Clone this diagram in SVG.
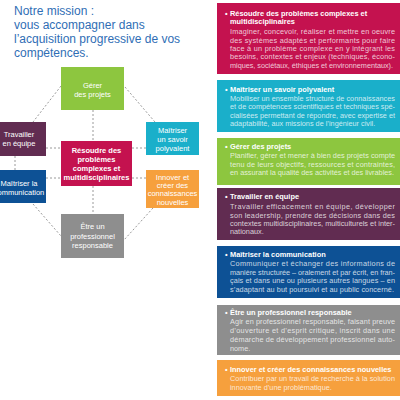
<svg xmlns="http://www.w3.org/2000/svg" width="400" height="400" viewBox="0 0 400 400">
<style>
.title{font-family:"Liberation Sans",Arial,sans-serif;font-size:12px;fill:#2f6eb5}
.n{font-family:"Liberation Sans",Arial,sans-serif;font-size:7.5px;fill:#fff;text-anchor:middle}
.nb{font-weight:bold}
.pt{font-family:"Liberation Sans",Arial,sans-serif;font-size:7.4px;font-weight:bold;fill:#fff}
.pb{font-family:"Liberation Sans",Arial,sans-serif;font-size:7.3px;fill:#fff;fill-opacity:0.78}
.dash{stroke:#9a9a9a;stroke-width:1;stroke-dasharray:2 2;fill:none}
</style>
<rect width="400" height="400" fill="#fff"/>
<g id="title">
<text class="title" x="14" y="15">Notre mission :</text>
<text class="title" x="14" y="29">vous accompagner dans</text>
<text class="title" x="14" y="43">l’acquisition progressive de vos</text>
<text class="title" x="14" y="57">compétences.</text>
</g>
<g id="connectors">
<line class="dash" x1="61" y1="86" x2="33" y2="122"/>
<line class="dash" x1="125" y1="87" x2="155" y2="122"/>
<line class="dash" x1="15" y1="156" x2="15" y2="170"/>
<line class="dash" x1="33" y1="204" x2="61" y2="236"/>
<line class="dash" x1="153" y1="208" x2="124" y2="240"/>
<line class="dash" x1="93" y1="110" x2="93" y2="141"/>
<line class="dash" x1="93" y1="186" x2="93" y2="214"/>
<line class="dash" x1="46" y1="148" x2="61" y2="148"/>
<line class="dash" x1="132" y1="148" x2="146" y2="148"/>
<line class="dash" x1="46" y1="178" x2="61" y2="178"/>
<line class="dash" x1="132" y1="178" x2="146" y2="178"/>
</g>
<g id="node-gerer">
<rect x="61" y="67" width="63" height="43" fill="#8dc63f"/>
<text class="n" x="92.5" y="87.7">Gérer</text>
<text class="n" x="92.5" y="96.7">des projets</text>
</g>
<g id="node-travailler">
<rect x="-8" y="122" width="54" height="34" fill="#612c51"/>
<text class="n" x="19" y="136.7">Travailler</text>
<text class="n" x="19" y="145.7">en équipe</text>
</g>
<g id="node-savoir">
<rect x="146" y="122" width="53" height="33" fill="#1aafca"/>
<text class="n" x="172.5" y="132.7">Maîtriser</text>
<text class="n" x="172.5" y="141.7">un savoir</text>
<text class="n" x="172.5" y="150.5">polyvalent</text>
</g>
<g id="node-resoudre">
<rect x="61" y="141" width="71" height="45" fill="#c4124f"/>
<text class="n nb" x="96.5" y="153.4">Résoudre des</text>
<text class="n nb" x="96.5" y="162">problèmes</text>
<text class="n nb" x="96.5" y="171">complexes et</text>
<text class="n nb" x="96.5" y="180">multidisciplinaires</text>
</g>
<g id="node-communication">
<rect x="-8" y="170" width="54" height="33" fill="#0d5195"/>
<text class="n" x="19" y="185.7">Maîtriser la</text>
<text class="n" x="19" y="194.7">communication</text>
</g>
<g id="node-innover">
<rect x="146" y="170" width="53" height="38" fill="#f6a03d"/>
<text class="n" x="172.5" y="180">Innover et</text>
<text class="n" x="172.5" y="188.3">créer  des</text>
<text class="n" x="172.5" y="196.4">connaissances</text>
<text class="n" x="172.5" y="204.6">nouvelles</text>
</g>
<g id="node-professionnel">
<rect x="61" y="214" width="63" height="44" fill="#8e8e8e"/>
<text class="n" x="92.5" y="229.4">Être un</text>
<text class="n" x="92.5" y="238.6">professionnel</text>
<text class="n" x="92.5" y="247.7">responsable</text>
</g>
<g id="panel-resoudre">
<rect x="217" y="3" width="183" height="71" fill="#c4124f"/>
<text class="pt" x="225" y="16">•</text>
<text class="pt" x="230" y="16">Résoudre des problèmes complexes et</text>
<text class="pt" x="230" y="24">multidisciplinaires</text>
<text class="pb" x="230" y="34.4" textLength="165" lengthAdjust="spacing">Imaginer, concevoir, réaliser et mettre en oeuvre</text>
<text class="pb" x="230" y="42.7" textLength="165" lengthAdjust="spacing">des systèmes adaptés et performants pour faire</text>
<text class="pb" x="230" y="51" textLength="165" lengthAdjust="spacing">face à un problème complexe en y intégrant les</text>
<text class="pb" x="230" y="59.4" textLength="165" lengthAdjust="spacing">besoins, contextes et enjeux (techniques, écono-</text>
<text class="pb" x="230" y="67.7" textLength="163" lengthAdjust="spacing">miques, sociétaux, éthiques et environnementaux).</text>
</g>
<g id="panel-savoir">
<rect x="217" y="80" width="183" height="52" fill="#1aafca"/>
<text class="pt" x="225" y="91.7">•</text>
<text class="pt" x="230" y="91.7">Maîtriser un savoir polyvalent</text>
<text class="pb" x="230" y="101" textLength="165" lengthAdjust="spacing">Mobiliser un ensemble structuré de connaissances</text>
<text class="pb" x="230" y="109.4" textLength="165" lengthAdjust="spacing">et de compétences scientifiques et techniques spé-</text>
<text class="pb" x="230" y="117.7" textLength="165" lengthAdjust="spacing">cialisées permettant de répondre, avec expertise et</text>
<text class="pb" x="230" y="126">adaptabilité, aux missions de l’ingénieur civil.</text>
</g>
<g id="panel-gerer">
<rect x="217" y="138" width="183" height="47" fill="#8dc63f"/>
<text class="pt" x="225" y="148.7">•</text>
<text class="pt" x="230" y="148.7">Gérer des projets</text>
<text class="pb" x="230" y="157.7" textLength="165" lengthAdjust="spacing">Planifier, gérer et mener à bien des projets compte</text>
<text class="pb" x="230" y="166.5" textLength="165" lengthAdjust="spacing">tenu de leurs objectifs, ressources et contraintes,</text>
<text class="pb" x="230" y="175.3" textLength="164" lengthAdjust="spacing">en assurant la qualité des activités et des livrables.</text>
</g>
<g id="panel-travailler">
<rect x="217" y="188" width="183" height="52" fill="#612c51"/>
<text class="pt" x="225" y="199.4">•</text>
<text class="pt" x="230" y="199.4">Travailler en équipe</text>
<text class="pb" x="230" y="209.4" textLength="165" lengthAdjust="spacing">Travailler efficacement en équipe, développer</text>
<text class="pb" x="230" y="217.7" textLength="165" lengthAdjust="spacing">son leadership, prendre des décisions dans des</text>
<text class="pb" x="230" y="226" textLength="165" lengthAdjust="spacing">contextes multidisciplinaires, multiculturels et inter-</text>
<text class="pb" x="230" y="234.4">nationaux.</text>
</g>
<g id="panel-communication">
<rect x="217" y="246" width="183" height="52" fill="#0d5195"/>
<text class="pt" x="225" y="256.7">•</text>
<text class="pt" x="230" y="256.7">Maîtriser la communication</text>
<text class="pb" x="230" y="266" textLength="165" lengthAdjust="spacing">Communiquer et échanger des informations de</text>
<text class="pb" x="230" y="274.5" textLength="165" lengthAdjust="spacing">manière structurée – oralement et par écrit, en fran-</text>
<text class="pb" x="230" y="283" textLength="165" lengthAdjust="spacing">çais et dans une ou plusieurs autres langues – en</text>
<text class="pb" x="230" y="291.5" textLength="164" lengthAdjust="spacing">s’adaptant au but poursuivi et au public concerné.</text>
</g>
<g id="panel-professionnel">
<rect x="217" y="305" width="183" height="50" fill="#8e8e8e"/>
<text class="pt" x="225" y="315">•</text>
<text class="pt" x="230" y="315">Être un professionnel responsable</text>
<text class="pb" x="230" y="324.4" textLength="165" lengthAdjust="spacing">Agir en professionnel responsable, faisant preuve</text>
<text class="pb" x="230" y="333" textLength="165" lengthAdjust="spacing">d’ouverture et d’esprit critique, inscrit dans une</text>
<text class="pb" x="230" y="341.8" textLength="165" lengthAdjust="spacing">démarche de développement professionnel auto-</text>
<text class="pb" x="230" y="350.6">nome.</text>
</g>
<g id="panel-innover">
<rect x="217" y="360" width="183" height="36" fill="#f6a03d"/>
<text class="pt" x="225" y="371.7">•</text>
<text class="pt" x="230" y="371.7">Innover et créer des connaissances nouvelles</text>
<text class="pb" x="230" y="381" textLength="165" lengthAdjust="spacing">Contribuer par un travail de recherche à la solution</text>
<text class="pb" x="230" y="390">innovante d’une problématique.</text>
</g>
</svg>
